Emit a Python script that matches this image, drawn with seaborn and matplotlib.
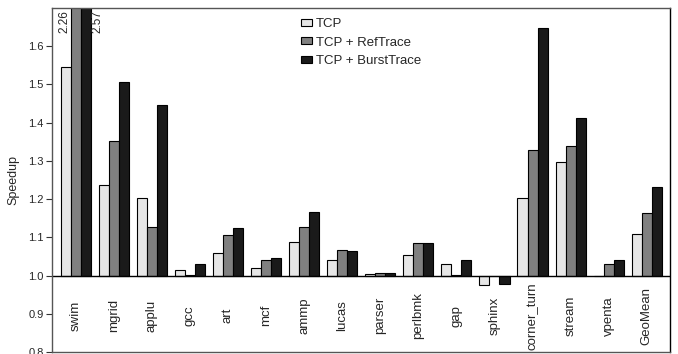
import numpy as np
import pandas as pd
import matplotlib
matplotlib.use('Agg')
import matplotlib.pyplot as plt
from matplotlib.patches import Patch
import seaborn as sns

# Data
benchmarks = ['swim', 'mgrid', 'applu', 'gcc', 'art', 'mcf', 'ammp', 'lucas',
              'parser', 'perlbmk', 'gap', 'sphinx', 'corner_turn', 'stream',
              'vpenta', 'GeoMean']
tcp = [1.545, 1.236, 1.203, 1.014, 1.058, 1.021, 1.089, 1.040,
       1.004, 1.054, 1.031, 0.974, 1.204, 1.298, 0.998, 1.110]
tcp_ref = [2.26, 1.353, 1.128, 1.001, 1.106, 1.042, 1.128, 1.066,
           1.007, 1.086, 1.001, 0.998, 1.328, 1.339, 1.029, 1.163]
tcp_burst = [2.57, 1.506, 1.447, 1.031, 1.124, 1.046, 1.165, 1.065,
             1.006, 1.086, 1.042, 0.979, 1.647, 1.412, 1.042, 1.232]
series = ['TCP', 'TCP + RefTrace', 'TCP + BurstTrace']
colors = ['#e6e6e6', '#808080', '#1a1a1a']

sns.set_style("ticks")
plt.rcParams['font.family'] = ['Liberation Sans', 'DejaVu Sans']

df = pd.DataFrame({'Benchmark': benchmarks * 3,
                   'Config': np.repeat(series, len(benchmarks)),
                   'Speedup': tcp + tcp_ref + tcp_burst})
# bars grow from the 1.0 baseline
df['Delta'] = df['Speedup'] - 1.0

fig = plt.figure(figsize=(6.78, 3.54), dpi=100)
ax = fig.add_axes([52 / 678, 2 / 354, 618 / 678, 344 / 354])

group_w = 0.79
sns.barplot(data=df, x='Benchmark', y='Delta', hue='Config', order=benchmarks,
            hue_order=series, palette=colors, width=group_w, bottom=1.0,
            edgecolor='black', linewidth=0.8, saturation=1, legend=False, ax=ax)

ax.set_xlim(-0.62, len(benchmarks) - 0.39)
ax.set_ylim(0.8, 1.7)
ax.set_yticks(np.arange(0.8, 1.65, 0.1))
ax.set_yticklabels([f'{t:.1f}' for t in np.arange(0.8, 1.65, 0.1)], fontsize=8)
ax.tick_params(axis='y', length=4, width=0.8, color='#333333', pad=2)
ax.set_xticks([])
ax.set_xlabel('')
ax.set_ylabel('Speedup', fontsize=9, labelpad=6)
ax.axhline(1.0, color='black', linewidth=1)
for s in ax.spines.values():
    s.set_visible(True)
    s.set_color('#555555')
    s.set_linewidth(1)
ax.spines['right'].set_color('black')

# benchmark names inside the plot, below the baseline
for i, name in enumerate(benchmarks):
    ax.text(i, 0.895, name, rotation=90, ha='center', va='center', fontsize=9.5)

# values of the clipped swim bars
bw = group_w / 3
ax.text(0 - bw / 2 - 0.01, 1.695, f'{tcp_ref[0]:.2f}', rotation=90,
        ha='right', va='top', fontsize=8.5)
ax.text(0 + 1.5 * bw + 0.03, 1.695, f'{tcp_burst[0]:.2f}', rotation=90,
        ha='left', va='top', fontsize=8.5)

handles = [Patch(facecolor=c, edgecolor='black', linewidth=0.8) for c in colors]
ax.legend(handles, series, loc='upper left',
          bbox_to_anchor=(301 / 678, 1 - 18 / 354),
          bbox_transform=fig.transFigure, frameon=False, fontsize=9.5,
          handlelength=0.8, handleheight=0.45, handletextpad=0.3,
          labelspacing=0.5, borderpad=0, borderaxespad=0)

fig.savefig('out.png', dpi=100)
